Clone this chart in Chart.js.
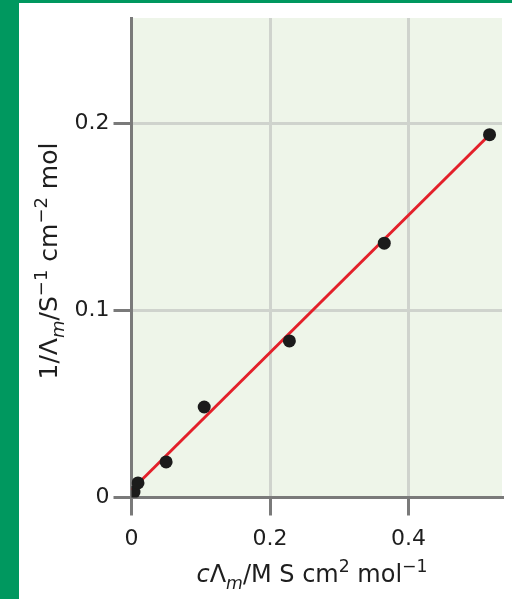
<!DOCTYPE html>
<html>
<head>
<meta charset="utf-8">
<script src="https://cdn.jsdelivr.net/npm/chart.js@4.4.1/dist/chart.umd.min.js"></script>
<style>
  html, body { margin: 0; padding: 0; background: #fff; }
  #wrap { width: 512px; height: 599px; position: relative; }
</style>
</head>
<body>
<div id="wrap"><canvas id="c" width="512" height="599"></canvas></div>
<script>
// measured points: c*Lambda_m vs 1/Lambda_m
const xValues = [0.0036, 0.0094, 0.050, 0.105, 0.228, 0.365, 0.517];
const yValues = [0.0029, 0.0078, 0.019, 0.0484, 0.0837, 0.136, 0.194];
// straight-line fit drawn in red
const fitX = [0, 0.517];
const fitY = [0.004, 0.194];
const xTicks = [0, 0.2, 0.4];
const yTicks = [0, 0.1, 0.2];

const FONT = '"DejaVu Sans", "Liberation Sans", sans-serif';
const TXT = '#1e1e1e';

// draw a run of text pieces (italic / sub / sup) centred on x
function richText(ctx, parts, x, y, size) {
    const pieces = parts.map(p => {
        const s = (p.sub || p.sup) ? size * 0.72 : size;
        const font = (p.i ? 'italic ' : '') + s + 'px ' + FONT;
        ctx.font = font;
        return { t: p.t, font, w: ctx.measureText(p.t).width, dy: p.sub ? size * 0.28 : p.sup ? -size * 0.42 : 0 };
    });
    const total = pieces.reduce((a, p) => a + p.w, 0);
    let cx = x - total / 2;
    ctx.textAlign = 'left';
    ctx.textBaseline = 'alphabetic';
    pieces.forEach(p => {
        ctx.font = p.font;
        ctx.fillText(p.t, cx, y + p.dy);
        cx += p.w;
    });
}

const decor = {
    id: 'decor',
    beforeDraw(chart) {
        const { ctx, chartArea: a } = chart;
        ctx.save();
        ctx.fillStyle = '#eef5e9';
        ctx.fillRect(a.left, a.top, a.right - a.left, a.bottom - a.top);
        ctx.restore();
    },
    afterDraw(chart) {
        const { ctx } = chart;
        ctx.save();
        // green frame
        ctx.fillStyle = '#00985f';
        ctx.fillRect(0, 0, 19, 599);
        ctx.fillRect(0, 0, 512, 3);
        ctx.fillStyle = TXT;
        richText(ctx, [
            { t: 'c', i: true }, { t: 'Λ' }, { t: 'm', i: true, sub: true },
            { t: '/M S cm' }, { t: '2', sup: true }, { t: ' mol' }, { t: '−1', sup: true }
        ], 312, 582, 24);
        ctx.translate(57, 261);
        ctx.rotate(-Math.PI / 2);
        richText(ctx, [
            { t: '1/Λ' }, { t: 'm', i: true, sub: true }, { t: '/S' }, { t: '−1', sup: true },
            { t: ' cm' }, { t: '−2', sup: true }, { t: ' mol' }
        ], 0, 0, 25);
        ctx.restore();
    }
};

new Chart(document.getElementById('c'), {
    type: 'scatter',
    data: {
        datasets: [
            {
                label: 'data',
                data: xValues.map((x, i) => ({ x, y: yValues[i] })),
                pointRadius: 6.5,
                pointHoverRadius: 6.5,
                backgroundColor: '#1b1b1b',
                borderWidth: 0,
                order: 1
            },
            {
                label: 'fit',
                data: fitX.map((x, i) => ({ x, y: fitY[i] })),
                showLine: true,
                pointRadius: 0,
                borderColor: '#e3202a',
                borderWidth: 3,
                order: 2
            }
        ]
    },
    options: {
        responsive: false,
        animation: false,
        events: [],
        layout: { padding: { top: 18, right: 10, left: 0, bottom: 0 } },
        plugins: { legend: { display: false }, tooltip: { enabled: false } },
        scales: {
            x: {
                type: 'linear',
                min: 0,
                max: 0.535,
                afterFit: s => { s.height = 101.5; },
                afterBuildTicks: s => { s.ticks = xTicks.map(v => ({ value: v })); },
                ticks: {
                    includeBounds: false,
                    font: { family: FONT, size: 22 },
                    color: TXT,
                    padding: 11,
                    maxRotation: 0,
                    callback: v => String(v)
                },
                grid: { color: '#cfd3cd', lineWidth: 3, tickColor: '#7a7a7a', tickLength: 18, tickWidth: 3 },
                border: { color: '#7a7a7a', width: 3 }
            },
            y: {
                type: 'linear',
                min: 0,
                max: 0.2564,
                afterFit: s => { s.width = 131.5; },
                afterBuildTicks: s => { s.ticks = yTicks.map(v => ({ value: v })); },
                ticks: {
                    includeBounds: false,
                    font: { family: FONT, size: 22 },
                    color: TXT,
                    padding: 4,
                    callback: v => String(v)
                },
                grid: { color: '#cfd3cd', lineWidth: 3, tickColor: '#7a7a7a', tickLength: 18, tickWidth: 3 },
                border: { color: '#7a7a7a', width: 3 }
            }
        }
    },
    plugins: [decor]
});
</script>
</body>
</html>
